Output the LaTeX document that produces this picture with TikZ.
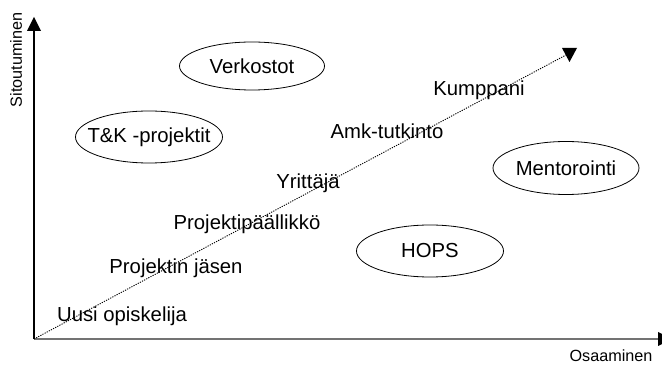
\documentclass[tikz,border=0pt]{standalone}
\usepackage{fontspec}
\setmainfont{Liberation Sans}
\begin{document}
\begin{tikzpicture}[x=1pt,y=-1pt,
  lbl/.style={inner sep=0pt,font=\fontsize{20.3}{22}\selectfont},
  axlbl/.style={inner sep=0pt,font=\fontsize{16.2}{18}\selectfont},
  ovalline/.style={draw=black,line width=0.8pt},
  axis/.style={line width=1.4pt}]
\useasboundingbox (0,0) rectangle (662,366);
\coordinate (O) at (34,339);
\coordinate (Ytop) at (34,30);
\coordinate (Xend) at (658,339);
\coordinate (Dend) at (566,55);
% axes
\draw[axis,black!55] (O) -- (Xend);
\draw[axis] (O) -- (Ytop);
\fill (34,17) -- (41,31) -- (27,31) -- cycle;
\fill (672,339) -- (658,332) -- (658,346) -- cycle;
% dotted diagonal
\draw[line width=0.9pt,dash pattern=on 1.2pt off 1.2pt] (O) -- (Dend);
\fill (562,48) -- (577,48) -- (569.5,62) -- cycle;
% axis labels
\node[axlbl,rotate=90] (ylab) at (16,60) {Sitoutuminen};
\node[axlbl] (xlab) at (611,356) {Osaaminen};
% ellipses
\node[lbl] (verk) at (252,66) {Verkostot};
\draw[ovalline] (verk.center) ellipse [x radius=72.5, y radius=24];
\node[lbl] (tk) at (149,137) {T\&K -projektit};
\draw[ovalline] (tk.center) ellipse [x radius=73.5, y radius=26];
\node[lbl] (ment) at (566,168) {Mentorointi};
\draw[ovalline] (ment.center) ellipse [x radius=73, y radius=26.5];
\node[lbl] (hops) at (430,251) {HOPS};
\draw[ovalline] (hops.center) ellipse [x radius=73.5, y radius=26];
% labels
\node[lbl] (kump) at (479,90) {Kumppani};
\node[lbl] (amk) at (387,131) {Amk-tutkinto};
\node[lbl] (yrit) at (308,183) {Yrittäjä};
\node[lbl] (pp) at (247,224) {Projektipäällikkö};
\node[lbl] (pj) at (176,268) {Projektin jäsen};
\node[lbl] (uusi) at (122,316) {Uusi opiskelija};
\end{tikzpicture}
\end{document}
